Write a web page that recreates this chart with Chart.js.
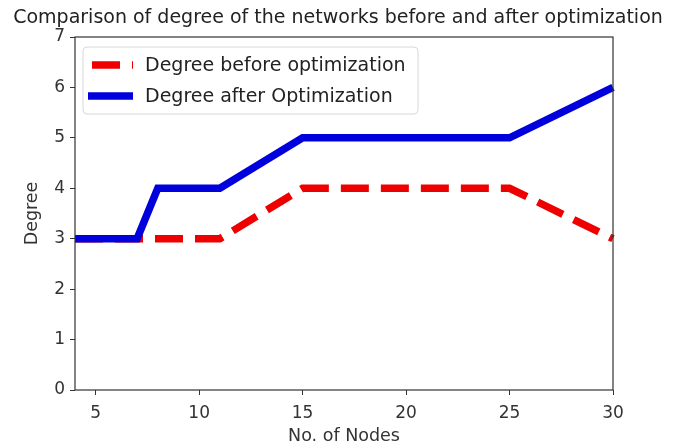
<!DOCTYPE html>
<html>
<head>
<meta charset="utf-8">
<script src="https://cdn.jsdelivr.net/npm/chart.js@4/dist/chart.umd.min.js"></script>
<style>
  html, body { margin: 0; padding: 0; background: #fff; }
  #wrap { width: 676px; height: 447px; }
</style>
</head>
<body>
<div id="wrap"><canvas id="degree-chart"></canvas></div>
<script>
var nodesBefore = [4, 7, 11, 15, 25, 30];
var degreeBefore = [3, 3, 3, 4, 4, 3];
var nodesAfter = [4, 7, 8, 11, 15, 25, 30];
var degreeAfter = [3, 3, 4, 4, 5, 5, 6];
var xTicks = [5, 10, 15, 20, 25, 30];
var yTicks = [0, 1, 2, 3, 4, 5, 6, 7];
var chartTitle = 'Comparison of degree of the networks before and after optimization';

function toPoints(xs, ys) {
    return xs.map(function (x, i) { return { x: x, y: ys[i] }; });
}

var font = 'DejaVu Sans';
Chart.defaults.font.family = font;
Chart.defaults.color = '#222';

// matplotlib style frame around the plot area + title centred on the figure
var framePlugin = {
    id: 'frame',
    afterDatasetsDraw: function (chart) {
        var a = chart.chartArea, ctx = chart.ctx;
        ctx.save();
        ctx.strokeStyle = '#333';
        ctx.lineWidth = 1.2;
        ctx.strokeRect(a.left, a.top, a.right - a.left, a.bottom - a.top);
        ctx.fillStyle = '#222';
        ctx.font = '19px ' + font;
        ctx.textAlign = 'center';
        ctx.textBaseline = 'middle';
        ctx.fillText(chartTitle, chart.width / 2, 18);
        ctx.restore();
    }
};

// legend box inside the plot, upper left
var innerLegend = {
    id: 'innerLegend',
    afterDraw: function (chart) {
        var a = chart.chartArea, ctx = chart.ctx;
        var x = a.left + 8, y = a.top + 10, w = 335, h = 67;
        ctx.save();
        ctx.fillStyle = 'rgba(255,255,255,0.85)';
        ctx.strokeStyle = '#d8d8d8';
        ctx.lineWidth = 1;
        ctx.beginPath();
        ctx.roundRect(x, y, w, h, 4);
        ctx.fill();
        ctx.stroke();
        chart.data.datasets.forEach(function (ds, i) {
            var cy = y + 18 + i * 31;
            ctx.strokeStyle = ds.borderColor;
            ctx.lineWidth = ds.borderWidth;
            ctx.setLineDash(ds.borderDash || []);
            ctx.lineDashOffset = -4;
            ctx.lineCap = 'butt';
            ctx.beginPath();
            ctx.moveTo(x + 5, cy);
            ctx.lineTo(x + 50, cy);
            ctx.stroke();
            ctx.setLineDash([]);
            ctx.fillStyle = '#222';
            ctx.font = '19px ' + font;
            ctx.textBaseline = 'middle';
            ctx.fillText(ds.label, x + 62, cy + 1);
        });
        ctx.restore();
    }
};

new Chart(document.getElementById('degree-chart'), {
    type: 'line',
    data: {
        datasets: [
            {
                label: 'Degree before optimization',
                data: toPoints(nodesBefore, degreeBefore),
                borderColor: '#ee0000',
                borderWidth: 7.5,
                borderDash: [28, 12],
                pointRadius: 0,
                tension: 0,
                order: 1,
                clip: 6
            },
            {
                label: 'Degree after Optimization',
                data: toPoints(nodesAfter, degreeAfter),
                borderColor: '#0000dd',
                borderWidth: 7.5,
                pointRadius: 0,
                tension: 0,
                order: 0,
                clip: 6
            }
        ]
    },
    options: {
        responsive: true,
        maintainAspectRatio: false,
        animation: false,
        layout: { padding: { left: 0, right: 63, top: 37, bottom: 0 } },
        plugins: {
            legend: { display: false },
            tooltip: { enabled: false },
            title: { display: false }
        },
        scales: {
            x: {
                type: 'linear',
                min: 4,
                max: 30,
                afterBuildTicks: function (s) { s.ticks = xTicks.map(function (v) { return { value: v }; }); },
                afterFit: function (s) { s.height = 57; },
                grid: { drawOnChartArea: false, drawTicks: true, tickLength: 5, color: '#333' },
                border: { display: false },
                ticks: { font: { size: 17 }, color: '#333', padding: 8, maxRotation: 0 },
                title: { display: true, text: 'No. of Nodes', font: { size: 17.5 }, color: '#333', padding: { top: 0, bottom: 0 } }
            },
            y: {
                min: 0,
                max: 7,
                afterBuildTicks: function (s) { s.ticks = yTicks.map(function (v) { return { value: v }; }); },
                afterFit: function (s) { s.width = 75; },
                grid: { drawOnChartArea: false, drawTicks: true, tickLength: 5, color: '#333' },
                border: { display: false },
                ticks: { font: { size: 17 }, color: '#333', padding: 5 },
                title: { display: true, text: 'Degree', font: { size: 17.5 }, color: '#333', padding: { top: 22, bottom: 4 } }
            }
        }
    },
    plugins: [framePlugin, innerLegend]
});
</script>
</body>
</html>
